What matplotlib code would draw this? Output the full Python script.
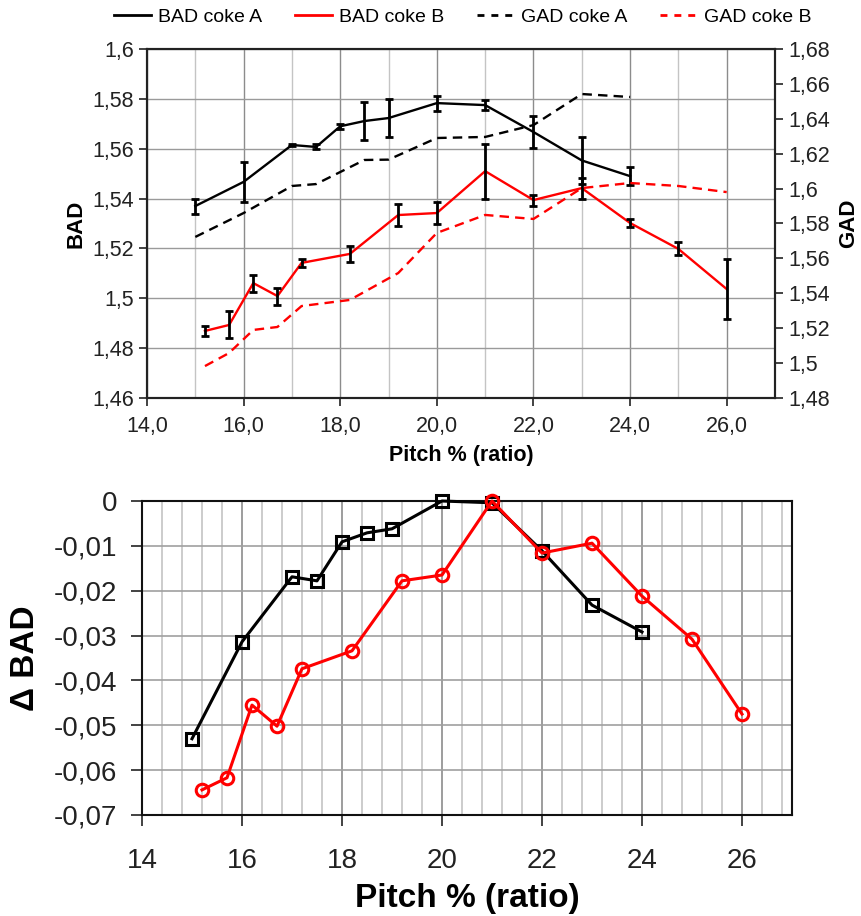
import matplotlib
matplotlib.use('Agg')
import matplotlib.pyplot as plt
from matplotlib.ticker import MultipleLocator, FuncFormatter
from matplotlib.lines import Line2D

plt.rcParams['font.family'] = ['Liberation Sans', 'DejaVu Sans']

# pitch content (%) for the two cokes
pitch_a = [15, 16, 17, 17.5, 18, 18.5, 19, 20, 21, 22, 23, 24]
pitch_b = [15.2, 15.7, 16.2, 16.7, 17.2, 18.2, 19.2, 20, 21, 22, 23, 24, 25, 26]

# BAD (left axis) with error bars
bad_a = [1.537, 1.5467, 1.5615, 1.5607, 1.569, 1.5711, 1.5723, 1.5783, 1.5775, 1.5667, 1.5553, 1.549]
bad_a_err = [0.003, 0.008, 0.0005, 0.001, 0.001, 0.0078, 0.0077, 0.003, 0.002, 0.0064, 0.0093, 0.0036]
bad_b = [1.4869, 1.4893, 1.5061, 1.5009, 1.5142, 1.5178, 1.5334, 1.5342, 1.551, 1.5394, 1.5442,
         1.5302, 1.5198, 1.5037]
bad_b_err = [0.002, 0.0054, 0.0034, 0.0034, 0.0015, 0.0032, 0.0044, 0.0046, 0.011, 0.0022, 0.0042,
             0.0018, 0.0026, 0.012]

# GAD (right axis)
gad_a = [1.5723, 1.586, 1.6015, 1.6026, 1.6095, 1.6164, 1.6166, 1.629, 1.6296, 1.6364, 1.6542, 1.6525]
gad_b = [1.4983, 1.5058, 1.519, 1.5207, 1.5327, 1.5362, 1.5516, 1.5746, 1.5849, 1.5826, 1.6003,
         1.6032, 1.6015, 1.598]

# delta BAD (bottom chart)
delta_a = [-0.053, -0.0314, -0.0169, -0.0178, -0.0091, -0.0071, -0.0062, 0.0, -0.0004, -0.0111,
           -0.0232, -0.0292]
delta_b = [-0.0644, -0.0617, -0.0455, -0.0502, -0.0374, -0.0334, -0.0178, -0.0165, 0.0, -0.0116,
           -0.0094, -0.0212, -0.0308, -0.0475]

legend_labels = ['BAD coke A', 'BAD coke B', 'GAD coke A', 'GAD coke B']

RED = '#ff0000'
DASH = (0, (4, 2.6))


def comma(fmt):
    def f(v, pos):
        v = round(v, 6)
        if v == 0:
            v = 0.0
        s = fmt % v
        return s.replace('.', ',')
    return FuncFormatter(f)


def style_spines(ax, color='#222222'):
    for s in ax.spines.values():
        s.set_color(color)
        s.set_linewidth(1.5)


fig = plt.figure(figsize=(8.62, 9.16), dpi=100)

# ---------------- top chart ----------------
ax = fig.add_axes([147 / 862, 1 - 398 / 916, 628 / 862, 349 / 916])
ax2 = ax.twinx()

ax.set_xlim(14, 27)
ax.set_ylim(1.46, 1.6)
ax2.set_ylim(1.48, 1.68)
ax.xaxis.set_major_locator(MultipleLocator(2))
ax.xaxis.set_minor_locator(MultipleLocator(1))
ax.yaxis.set_major_locator(MultipleLocator(0.02))
ax2.yaxis.set_major_locator(MultipleLocator(0.02))
ax.xaxis.set_major_formatter(comma('%.1f'))
ax.yaxis.set_major_formatter(comma('%g'))
ax2.yaxis.set_major_formatter(comma('%g'))

ax.grid(True, which='major', axis='x', color='#8c8c8c', lw=1.0)
ax.grid(True, which='minor', axis='x', color='#c4c4c4', lw=1.0)
ax.grid(True, which='major', axis='y', color='#9a9a9a', lw=1.0)
ax.set_axisbelow(True)

ax.tick_params(axis='both', which='major', direction='out', length=6, width=1.2,
               labelsize=15.5, colors='#222222')
ax.tick_params(axis='x', which='major', pad=7)
ax.tick_params(axis='x', which='minor', length=0)
ax2.tick_params(axis='y', direction='out', length=6, width=1.2, labelsize=15.5, colors='#222222')
style_spines(ax)
style_spines(ax2)

ax2.plot(pitch_a, gad_a, color='black', lw=1.7, ls=DASH)
ax2.plot(pitch_b, gad_b, color=RED, lw=1.7, ls=DASH)
ax.plot(pitch_a, bad_a, color='black', lw=1.7, zorder=3)
ax.plot(pitch_b, bad_b, color=RED, lw=1.7, zorder=3)
ax.errorbar(pitch_a, bad_a, yerr=bad_a_err, fmt='none', ecolor='black', elinewidth=2,
            capsize=3, capthick=2, zorder=4)
ax.errorbar(pitch_b, bad_b, yerr=bad_b_err, fmt='none', ecolor='black', elinewidth=2,
            capsize=3, capthick=2, zorder=4)

ax.set_xlabel('Pitch % (ratio)', fontsize=15.5, fontweight='bold', labelpad=6)
ax.set_ylabel('BAD', fontsize=16, fontweight='bold', labelpad=4)
ax2.set_ylabel('GAD', fontsize=16, fontweight='bold', labelpad=6)

handles = [Line2D([], [], color='black', lw=2),
           Line2D([], [], color=RED, lw=2),
           Line2D([], [], color='black', lw=2, ls=(0, (2.5, 2.5))),
           Line2D([], [], color=RED, lw=2, ls=(0, (2.5, 2.5)))]
fig.legend(handles, legend_labels, loc='center', bbox_to_anchor=(463 / 862, 1 - 17 / 916),
           ncol=4, frameon=False, fontsize=14, handlelength=1.9, handletextpad=0.35,
           columnspacing=1.7)

# ---------------- bottom chart ----------------
bx = fig.add_axes([142 / 862, 1 - 815 / 916, 650 / 862, 314 / 916])
bx.set_xlim(14, 27)
bx.set_ylim(-0.07, 0)
bx.xaxis.set_major_locator(MultipleLocator(2))
bx.xaxis.set_minor_locator(MultipleLocator(0.4))
bx.yaxis.set_major_locator(MultipleLocator(0.01))
bx.yaxis.set_major_formatter(comma('%g'))
bx.xaxis.set_major_formatter(FuncFormatter(lambda v, p: '%d' % round(v)))

bx.grid(True, which='major', axis='x', color='#8c8c8c', lw=1.2)
bx.grid(True, which='minor', axis='x', color='#c4c4c4', lw=1.2)
bx.grid(True, which='major', axis='y', color='#a0a0a0', lw=1.2)
bx.set_axisbelow(True)
bx.tick_params(axis='both', which='major', direction='out', length=8, width=1.2,
               labelsize=20, colors='#222222', pad=10)
bx.tick_params(axis='x', which='major', pad=16)
bx.tick_params(axis='x', which='minor', length=0)
style_spines(bx, '#111111')

bx.plot(pitch_a, delta_a, color='black', lw=2.2, marker='s', ms=8, mfc='none', mew=2.2,
        clip_on=False, zorder=3)
bx.plot(pitch_b, delta_b, color=RED, lw=2.2, marker='o', ms=9, mfc='none', mew=2.2,
        clip_on=False, zorder=4)

bx.set_xlabel('Pitch % (ratio)', fontsize=24, fontweight='bold', labelpad=6)
bx.set_ylabel('\u0394 BAD', fontsize=24, fontweight='bold', labelpad=9)

fig.savefig('out.png', dpi=100, facecolor='white')
